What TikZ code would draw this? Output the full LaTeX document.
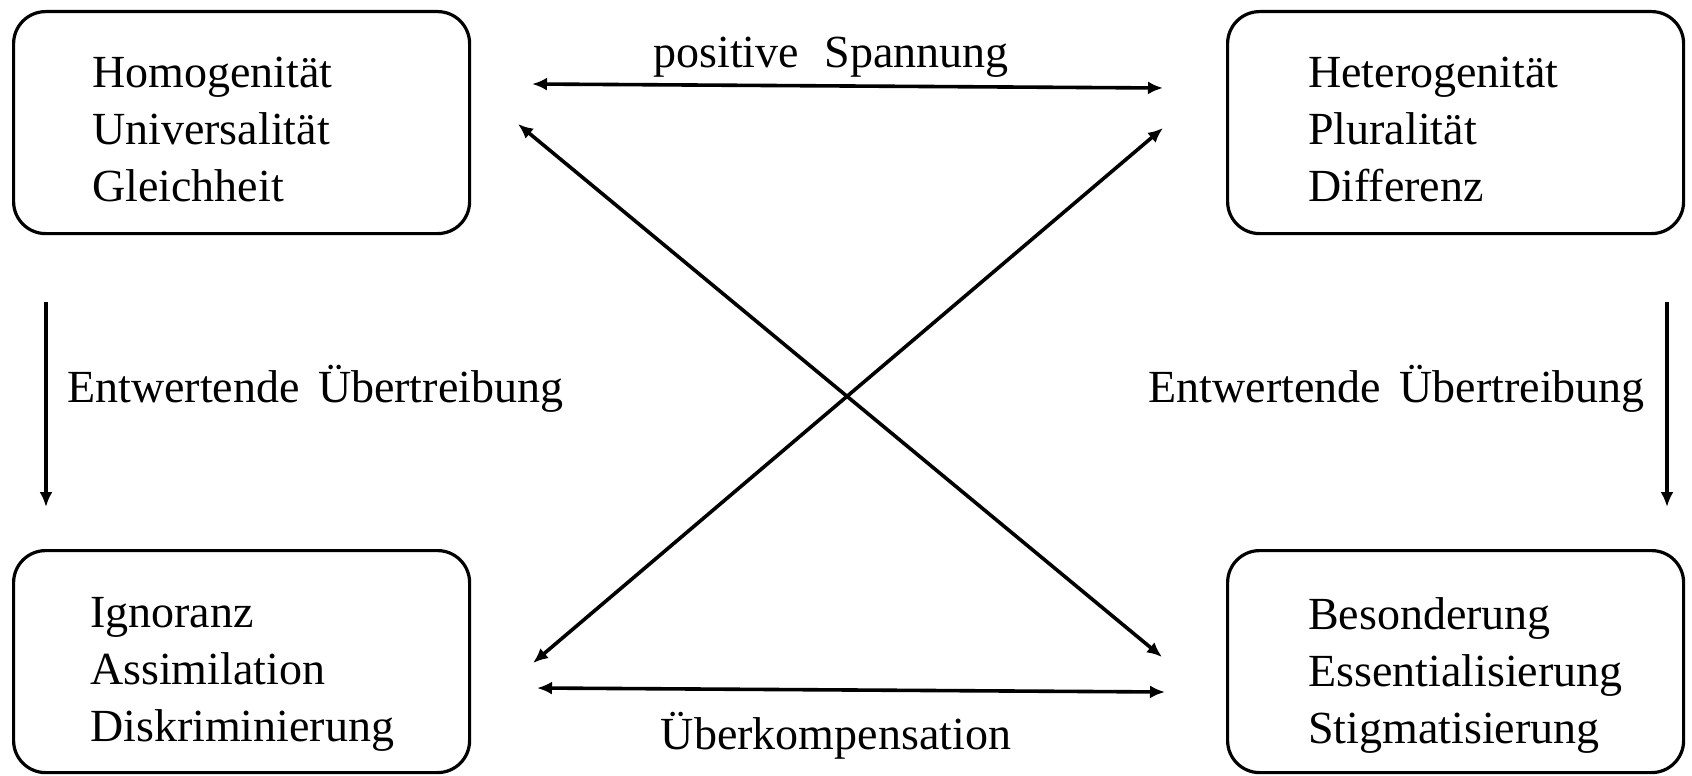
\documentclass[tikz,border=0pt]{standalone}
\usepackage{fontspec}
\setmainfont{Liberation Serif}
\usetikzlibrary{arrows.meta}

\begin{document}
\begin{tikzpicture}[
  x=1pt, y=-1pt,
  box/.style={draw, line width=3.2pt, rounded corners=32pt, minimum width=456pt, minimum height=222pt, inner sep=0pt, anchor=north west},
  lines/.style={align=left, inner sep=0pt, anchor=north west, font=\fontsize{46}{57}\selectfont},
  lbl/.style={inner sep=0pt, font=\fontsize{46}{57}\selectfont},
  arr/.style={-{Latex[length=15pt,width=13pt]}, line width=3.6pt},
  dbl/.style={{Latex[length=15pt,width=13pt]}-{Latex[length=15pt,width=13pt]}, line width=3.6pt}
]
\useasboundingbox (0,0) rectangle (1692,776);

% the four boxes
\node[box] (homo) at (12,10) {};
\node[box] (hetero) at (1226,10) {};
\node[box] (ignor) at (12,549) {};
\node[box] (beson) at (1226,549) {};

\node[lines] (homo-txt) at ([shift={(80,47)}]homo.north west) {Homogenität\\Universalität\\Gleichheit};
\node[lines] (hetero-txt) at ([shift={(82,47)}]hetero.north west) {Heterogenität\\Pluralität\\Differenz};
\node[lines] (ignor-txt) at ([shift={(78,48)}]ignor.north west) {Ignoranz\\Assimilation\\Diskriminierung};
\node[lines] (beson-txt) at ([shift={(82,48)}]beson.north west) {Besonderung\\Essentialisierung\\Stigmatisierung};

% labels
\node[lbl, anchor=base] (spann) at (831,68) {positive\hspace{0.55em}Spannung};
\node[lbl, anchor=base] (komp) at (836,749) {Überkompensation};
\node[lbl, anchor=base west] (entw-l) at (67,402) {Entwertende\hspace{0.4em}Übertreibung};
\node[lbl, anchor=base east] (entw-r) at (1645,402) {Entwertende\hspace{0.4em}Übertreibung};

% arrow ends
\coordinate (top-l) at (532,84);
\coordinate (top-r) at (1163,88);
\coordinate (bot-l) at (537,688);
\coordinate (bot-r) at (1165,692);
\coordinate (dia-tl) at (518,124);
\coordinate (dia-br) at (1162,657);
\coordinate (dia-bl) at (533,663);
\coordinate (dia-tr) at (1163,128);
\coordinate (lv-a) at (46,302);
\coordinate (lv-b) at (46,507);
\coordinate (rv-a) at (1667,302);
\coordinate (rv-b) at (1667,507);

\draw[dbl] (top-l) -- (top-r);
\draw[dbl] (bot-l) -- (bot-r);
\draw[dbl] (dia-tl) -- (dia-br);
\draw[dbl] (dia-bl) -- (dia-tr);
\draw[arr] (lv-a) -- (lv-b);
\draw[arr] (rv-a) -- (rv-b);
\end{tikzpicture}
\end{document}
